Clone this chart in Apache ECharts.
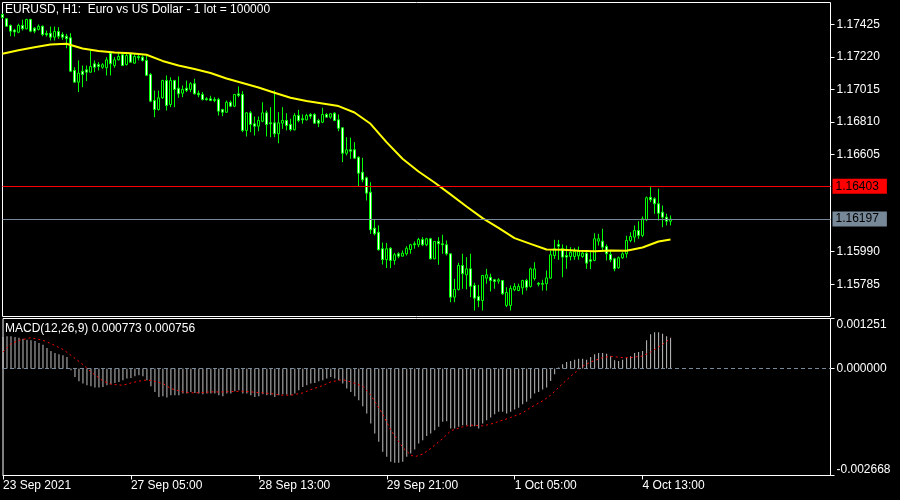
<!DOCTYPE html>
<html><head><meta charset="utf-8">
<script src="https://cdn.jsdelivr.net/npm/echarts@6/dist/echarts.min.js"></script>
<style>html,body{margin:0;padding:0;background:#000}#c{width:900px;height:500px}</style>
</head><body><div id="c"></div>
<script>
// ---- OHLC, one value per H1 bar (bar 0 = 23 Sep 21:00) ----
const openP = [1.17488,1.17461,1.17419,1.17390,1.17376,1.17419,1.17398,1.17457,1.17402,1.17394,
1.17414,1.17368,1.17370,1.17345,1.17381,1.17362,1.17351,1.17341,1.17135,1.17061,
1.17130,1.17139,1.17124,1.17177,1.17172,1.17155,1.17152,1.17244,1.17166,1.17202,
1.17234,1.17172,1.17240,1.17181,1.17223,1.17219,1.17198,1.17109,1.16945,1.16888,
1.16962,1.17071,1.16920,1.17071,1.17023,1.16991,1.17023,1.17015,1.17051,1.16991,
1.16983,1.16956,1.16956,1.16951,1.16951,1.16888,1.16871,1.16934,1.16909,1.16987,
1.16983,1.16756,1.16867,1.16798,1.16783,1.16814,1.16867,1.16804,1.16804,1.16735,
1.16802,1.16819,1.16794,1.16760,1.16850,1.16830,1.16823,1.16857,1.16857,1.16819,
1.16808,1.16857,1.16840,1.16865,1.16823,1.16773,1.16612,1.16634,1.16634,1.16587,
1.16492,1.16457,1.16366,1.16139,1.16113,1.16009,1.15940,1.16012,1.15935,1.15977,
1.15962,1.15977,1.16004,1.16040,1.16034,1.16067,1.16034,1.16072,1.15945,1.16055,
1.16040,1.16034,1.15977,1.15703,1.15752,1.15903,1.15844,1.15882,1.15777,1.15707,
1.15682,1.15823,1.15829,1.15813,1.15804,1.15808,1.15651,1.15651,1.15750,1.15745,
1.15762,1.15808,1.15771,1.15821,1.15791,1.15790,1.15788,1.15823,1.15966,1.16036,
1.16009,1.15966,1.15960,1.15960,1.15964,1.15960,1.15981,1.15939,1.15935,1.16057,
1.16057,1.16023,1.15973,1.15945,1.15889,1.15952,1.15977,1.16061,1.16082,1.16124,
1.16093,1.16192,1.16334,1.16324,1.16293,1.16240,1.16208,1.16183];
const closeP = [1.17469,1.17414,1.17383,1.17378,1.17419,1.17398,1.17457,1.17383,1.17383,1.17414,
1.17362,1.17360,1.17345,1.17381,1.17351,1.17345,1.17335,1.17130,1.17061,1.17118,
1.17109,1.17124,1.17160,1.17155,1.17160,1.17171,1.17202,1.17177,1.17202,1.17223,
1.17166,1.17229,1.17187,1.17223,1.17215,1.17198,1.17104,1.16941,1.16888,1.16962,
1.17071,1.16914,1.17071,1.17015,1.16987,1.17015,1.17008,1.17051,1.16987,1.16981,
1.16951,1.16950,1.16945,1.16945,1.16878,1.16871,1.16934,1.16909,1.16983,1.16977,
1.16756,1.16867,1.16794,1.16783,1.16819,1.16867,1.16794,1.16798,1.16735,1.16804,
1.16819,1.16787,1.16762,1.16850,1.16819,1.16823,1.16850,1.16846,1.16802,1.16802,
1.16857,1.16840,1.16861,1.16819,1.16770,1.16612,1.16634,1.16625,1.16581,1.16486,
1.16444,1.16360,1.16129,1.16103,1.16002,1.15940,1.16009,1.15935,1.15971,1.15962,
1.15981,1.16012,1.16034,1.16034,1.16067,1.16034,1.16072,1.15945,1.16055,1.16040,
1.16034,1.15977,1.15703,1.15752,1.15903,1.15851,1.15882,1.15772,1.15697,1.15682,
1.15840,1.15844,1.15808,1.15802,1.15813,1.15724,1.15733,1.15758,1.15771,1.15771,
1.15808,1.15766,1.15882,1.15882,1.15785,1.15785,1.15825,1.15971,1.16009,1.16025,
1.15956,1.15956,1.15987,1.15992,1.15992,1.15981,1.15918,1.15930,1.16072,1.16072,
1.16019,1.15977,1.15939,1.15882,1.15952,1.15977,1.16061,1.16086,1.16124,1.16093,
1.16198,1.16331,1.16318,1.16293,1.16233,1.16208,1.16183,1.16197];
const highP = [1.17495,1.17466,1.17425,1.17398,1.17430,1.17455,1.17461,1.17461,1.17408,1.17425,
1.17419,1.17387,1.17412,1.17412,1.17408,1.17376,1.17366,1.17370,1.17155,1.17198,
1.17166,1.17166,1.17261,1.17198,1.17187,1.17181,1.17219,1.17250,1.17219,1.17244,
1.17244,1.17244,1.17244,1.17244,1.17234,1.17229,1.17229,1.17118,1.17008,1.17008,
1.17076,1.17103,1.17092,1.17076,1.17097,1.17040,1.17071,1.17061,1.17082,1.17008,
1.16998,1.16966,1.16975,1.16966,1.16962,1.16893,1.16945,1.16945,1.16987,1.17034,
1.17004,1.16871,1.16878,1.16844,1.16844,1.16934,1.16882,1.16903,1.17008,1.16871,
1.16903,1.16865,1.16830,1.16865,1.16886,1.16857,1.16861,1.16865,1.16865,1.16830,
1.16899,1.16865,1.16865,1.16871,1.16857,1.16773,1.16713,1.16710,1.16682,1.16593,
1.16583,1.16465,1.16429,1.16192,1.16156,1.16048,1.16046,1.16019,1.15983,1.15987,
1.15998,1.16025,1.16040,1.16055,1.16078,1.16082,1.16078,1.16078,1.16057,1.16082,
1.16097,1.16061,1.15977,1.15819,1.15920,1.15977,1.15956,1.15977,1.15794,1.15781,
1.15844,1.15882,1.15851,1.15819,1.15823,1.15808,1.15766,1.15777,1.15791,1.15788,
1.15813,1.15819,1.15890,1.15924,1.15798,1.15813,1.15872,1.15998,1.16065,1.16065,
1.16036,1.16029,1.16019,1.16015,1.16023,1.15998,1.15998,1.15987,1.16107,1.16103,
1.16135,1.16036,1.15998,1.15952,1.15960,1.15987,1.16091,1.16113,1.16156,1.16183,
1.16213,1.16339,1.16398,1.16334,1.16388,1.16282,1.16230,1.16219];
const lowP = [1.17463,1.17412,1.17351,1.17349,1.17370,1.17387,1.17394,1.17376,1.17370,1.17387,
1.17351,1.17349,1.17324,1.17324,1.17335,1.17328,1.17275,1.17124,1.17058,1.16998,
1.17029,1.17067,1.17120,1.17124,1.17135,1.17145,1.17103,1.17103,1.17152,1.17198,
1.17162,1.17166,1.17185,1.17177,1.17198,1.17191,1.17099,1.16934,1.16840,1.16882,
1.16956,1.16882,1.16903,1.16903,1.16962,1.16966,1.16998,1.16998,1.16983,1.16966,
1.16945,1.16945,1.16941,1.16934,1.16850,1.16846,1.16867,1.16903,1.16903,1.16966,
1.16745,1.16718,1.16745,1.16724,1.16751,1.16808,1.16718,1.16713,1.16713,1.16675,
1.16766,1.16756,1.16751,1.16756,1.16808,1.16798,1.16819,1.16830,1.16798,1.16777,
1.16802,1.16836,1.16830,1.16814,1.16751,1.16556,1.16598,1.16577,1.16577,1.16402,
1.16429,1.16314,1.16103,1.16093,1.15998,1.15909,1.15887,1.15886,1.15908,1.15949,
1.15960,1.15966,1.15977,1.16009,1.16019,1.16025,1.16025,1.15941,1.15943,1.15908,
1.15977,1.15966,1.15671,1.15671,1.15745,1.15756,1.15752,1.15703,1.15619,1.15640,
1.15619,1.15788,1.15739,1.15756,1.15788,1.15718,1.15640,1.15619,1.15741,1.15741,
1.15720,1.15745,1.15764,1.15808,1.15771,1.15745,1.15745,1.15819,1.15945,1.15939,
1.15829,1.15882,1.15935,1.15939,1.15939,1.15952,1.15882,1.15880,1.15930,1.16029,
1.15998,1.15935,1.15924,1.15867,1.15882,1.15945,1.15952,1.16050,1.16050,1.16072,
1.16082,1.16183,1.16303,1.16230,1.16187,1.16145,1.16156,1.16156];

// ---- Moving average (yellow), read at [bar, price] ----
const maPoints = [[0,1.17240],[4,1.17262],[8,1.17281],[12,1.17299],[16,1.17303],[20,1.17274],
[24,1.17258],[28,1.17248],[32,1.17244],[36,1.17234],[40,1.17195],[44,1.17166],[48,1.17144],
[52,1.17119],[56,1.17084],[60,1.17056],[64,1.17027],[68,1.16994],[72,1.16962],[76,1.16942],
[80,1.16926],[84,1.16910],[88,1.16869],[92,1.16798],[96,1.16682],[100,1.16577],[104,1.16497],
[108,1.16427],[112,1.16352],[116,1.16276],[120,1.16202],[124,1.16141],[128,1.16076],
[132,1.16040],[136,1.16004],[140,1.16002],[144,1.15996],[148,1.15993],[152,1.15998],
[156,1.15996],[160,1.16017],[164,1.16055],[167,1.16067]];

// ---- MACD(12,26,9) histogram, one per bar ----
const macdHist = [0.000789,0.000805,0.000805,0.000789,0.000772,0.000747,0.000722,0.000706,0.000689,0.000639,
0.000598,0.000515,0.000440,0.000390,0.000357,0.000332,0.000291,-0.000042,-0.000208,-0.000315,
-0.000374,-0.000415,-0.000440,-0.000473,-0.000473,-0.000457,-0.000415,-0.000390,-0.000357,-0.000332,
-0.000291,-0.000249,-0.000232,-0.000191,-0.000166,-0.000191,-0.000291,-0.000440,-0.000581,-0.000706,
-0.000689,-0.000722,-0.000664,-0.000664,-0.000664,-0.000623,-0.000623,-0.000581,-0.000606,-0.000623,
-0.000639,-0.000623,-0.000623,-0.000623,-0.000664,-0.000689,-0.000623,-0.000623,-0.000564,-0.000540,
-0.000623,-0.000623,-0.000664,-0.000706,-0.000689,-0.000639,-0.000664,-0.000664,-0.000706,-0.000664,
-0.000639,-0.000647,-0.000664,-0.000623,-0.000540,-0.000457,-0.000415,-0.000374,-0.000357,-0.000315,
-0.000291,-0.000249,-0.000208,-0.000249,-0.000291,-0.000374,-0.000498,-0.000581,-0.000689,-0.000789,
-0.000938,-0.001121,-0.001370,-0.001619,-0.001826,-0.002075,-0.002200,-0.002324,-0.002349,-0.002349,
-0.002324,-0.002200,-0.002117,-0.002017,-0.001868,-0.001785,-0.001685,-0.001619,-0.001536,-0.001453,
-0.001328,-0.001311,-0.001494,-0.001494,-0.001453,-0.001411,-0.001411,-0.001453,-0.001436,-0.001494,
-0.001370,-0.001287,-0.001220,-0.001137,-0.001079,-0.001079,-0.001121,-0.001079,-0.001021,-0.000979,
-0.000888,-0.000830,-0.000747,-0.000623,-0.000581,-0.000523,-0.000473,-0.000307,-0.000141,0.000025,
0.000108,0.000166,0.000191,0.000224,0.000249,0.000249,0.000224,0.000291,0.000357,0.000390,
0.000390,0.000374,0.000307,0.000208,0.000191,0.000224,0.000274,0.000307,0.000390,0.000415,
0.000440,0.000706,0.000855,0.000905,0.000905,0.000872,0.000805,0.000773];

// ---- MACD signal (red dotted), read at [bar, value] ----
const signalPoints = [[0,0.000415],[2,0.000623],[4,0.000706],[7,0.000772],[10,0.000706],[12,0.000623],
[15,0.000481],[17,0.000332],[20,0.000100],[22,-0.000083],[25,-0.000307],[27,-0.000390],[30,-0.000415],
[32,-0.000357],[35,-0.000291],[37,-0.000291],[40,-0.000374],[42,-0.000498],[45,-0.000581],[47,-0.000606],
[50,-0.000598],[52,-0.000581],[55,-0.000581],[57,-0.000573],[60,-0.000564],[62,-0.000581],[65,-0.000606],
[67,-0.000623],[70,-0.000664],[72,-0.000664],[75,-0.000606],[77,-0.000523],[80,-0.000423],[82,-0.000332],
[85,-0.000274],[87,-0.000332],[90,-0.000440],[92,-0.000664],[95,-0.001137],[97,-0.001536],[100,-0.001967],
[102,-0.002158],[103,-0.002200],[105,-0.002133],[107,-0.001992],[110,-0.001743],[112,-0.001552],
[115,-0.001453],[117,-0.001411],[120,-0.001428],[122,-0.001386],[125,-0.001287],[127,-0.001220],
[130,-0.001104],[132,-0.000971],[135,-0.000805],[137,-0.000664],[140,-0.000374],[142,-0.000191],
[145,0.000058],[147,0.000166],[150,0.000274],[152,0.000307],[155,0.000274],[157,0.000274],
[160,0.000315],[162,0.000415],[165,0.000606],[167,0.000756]];

// ---- axes / labels ----
const slotCount = 208;                       // visible bar slots across the chart width
const slots = Array.from({length: slotCount}, (_, i) => String(i));
const timeLabels = ['23 Sep 2021', '27 Sep 05:00', '28 Sep 13:00', '29 Sep 21:00', '1 Oct 05:00', '4 Oct 13:00'];
const timeLabelBars = [0, 32, 64, 96, 128, 160];
const priceTicks = [1.15785, 1.15990, 1.16605, 1.16810, 1.17015, 1.17220, 1.17425];
const priceMin = 1.15581, priceMax = 1.17564;
const macdTicks = [-0.002668, 0, 0.001251];
const macdMin = -0.002668, macdMax = 0.001251;
const levelLine = 1.16403;
const bidLine = 1.16197;
const titleText = 'EURUSD, H1:  Euro vs US Dollar - 1 lot = 100000';

const candles = openP.map((o, i) => [o, closeP[i], lowP[i], highP[i]]);
const labelMap = new Map(timeLabelBars.map((b, k) => [b, timeLabels[k]]));
const FONT = 'Liberation Sans';
const lastMacd = macdHist[macdHist.length - 1];
const lastSig = signalPoints[signalPoints.length - 1][1];

const chart = echarts.init(document.getElementById('c'), null, {renderer: 'canvas'});
chart.setOption({
  animation: false,
  backgroundColor: '#000000',
  title: [
    {text: titleText, left: 5, top: 4, padding: 0,
     textStyle: {color: '#ffffff', fontSize: 12, fontWeight: 'normal', fontFamily: FONT}},
    {text: 'MACD(12,26,9) ' + lastMacd.toFixed(6) + ' ' + lastSig.toFixed(6), left: 5, top: 323, padding: 0,
     textStyle: {color: '#ffffff', fontSize: 12, fontWeight: 'normal', fontFamily: FONT}}
  ],
  grid: [
    {left: 2.5, top: 2.5, width: 828, height: 314, show: true, borderColor: '#ffffff', borderWidth: 1, backgroundColor: 'transparent'},
    {left: 2.5, top: 318.5, width: 828, height: 157, show: true, borderColor: '#ffffff', borderWidth: 1, backgroundColor: 'transparent'}
  ],
  xAxis: [
    {type: 'category', gridIndex: 0, data: slots, boundaryGap: false, position: 'bottom',
     axisLine: {show: false, onZero: false}, axisTick: {show: false}, axisLabel: {show: false}, splitLine: {show: false}},
    {type: 'category', gridIndex: 1, data: slots, boundaryGap: false, position: 'bottom',
     axisLine: {show: true, onZero: false, lineStyle: {color: '#ffffff'}},
     axisTick: {show: true, interval: (i) => labelMap.has(i), length: 4, lineStyle: {color: '#ffffff'}},
     axisLabel: {show: true, interval: (i) => labelMap.has(i), formatter: (v, i) => labelMap.get(i) || '',
                 align: 'left', color: '#ffffff', fontSize: 12, fontFamily: FONT, margin: 4},
     splitLine: {show: false}}
  ],
  yAxis: [
    {type: 'value', gridIndex: 0, position: 'right', min: priceMin, max: priceMax, scale: true,
     axisLine: {show: false}, splitLine: {show: false},
     axisTick: {show: true, customValues: priceTicks, length: 4, lineStyle: {color: '#ffffff'}},
     axisLabel: {show: true, customValues: priceTicks, formatter: (v) => v.toFixed(5),
                 color: '#ffffff', fontSize: 12, fontFamily: FONT, margin: 6}},
    {type: 'value', gridIndex: 1, position: 'right', min: macdMin, max: macdMax,
     axisLine: {show: false}, splitLine: {show: false},
     axisTick: {show: true, customValues: macdTicks, length: 4, lineStyle: {color: '#ffffff'}},
     axisLabel: {show: true, customValues: macdTicks, formatter: (v) => v.toFixed(6),
                 verticalAlignMinLabel: 'bottom', verticalAlignMaxLabel: 'top',
                 color: '#ffffff', fontSize: 12, fontFamily: FONT, margin: 6}}
  ],
  series: [
    {type: 'candlestick', xAxisIndex: 0, yAxisIndex: 0, data: candles, barWidth: 3, z: 2,
     itemStyle: {color: '#000000', color0: '#ffffff', borderColor: '#00ff00', borderColor0: '#00ff00', borderWidth: 1},
     markLine: {symbol: 'none', silent: true, animation: false, precision: 5,
       data: [
         {yAxis: levelLine, lineStyle: {color: '#ff0000', type: 'solid', width: 1},
          label: {show: true, position: 'end', distance: 2, formatter: levelLine.toFixed(5),
                  backgroundColor: '#ff0000', color: '#000000', fontSize: 12, fontFamily: FONT,
                  padding: [1, 8, 1, 3], lineHeight: 13}},
         {yAxis: bidLine, lineStyle: {color: '#778899', type: 'solid', width: 1},
          label: {show: true, position: 'end', distance: 2, formatter: bidLine.toFixed(5),
                  backgroundColor: '#778899', color: '#000000', fontSize: 12, fontFamily: FONT,
                  padding: [1, 8, 1, 3], lineHeight: 13}}
       ]}},
    {type: 'line', xAxisIndex: 0, yAxisIndex: 0, data: maPoints, showSymbol: false, z: 3,
     lineStyle: {color: '#ffff00', width: 2}, smooth: false},
    {type: 'bar', xAxisIndex: 1, yAxisIndex: 1, data: macdHist, barWidth: 1, z: 2,
     itemStyle: {color: '#c0c0c0'},
     markLine: {symbol: 'none', silent: true, animation: false,
       data: [{yAxis: 0, lineStyle: {color: '#778899', type: [4, 3], width: 1}, label: {show: false}}]}},
    {type: 'line', xAxisIndex: 1, yAxisIndex: 1, data: signalPoints, showSymbol: false, z: 3,
     lineStyle: {color: '#ff0000', width: 1, type: [2, 3]}}
  ]
});
</script>
</body></html>
